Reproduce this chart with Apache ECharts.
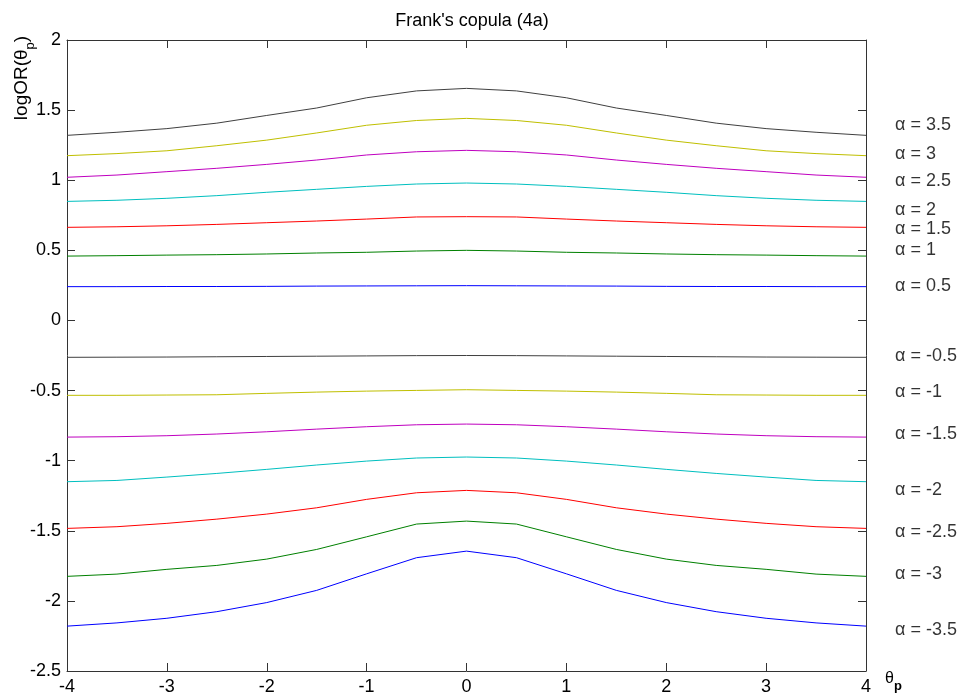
<!DOCTYPE html>
<html>
<head>
<meta charset="utf-8">
<script src="https://cdn.jsdelivr.net/npm/echarts@6/dist/echarts.min.js"></script>
<style>
  html, body { margin: 0; padding: 0; background: #fff; }
  #chart { width: 967px; height: 700px; }
</style>
</head>
<body>
<div id="chart"></div>
<script>
// theta_p sample points
var theta = [-4, -3.5, -3, -2.5, -2, -1.5, -1, -0.5, 0, 0.5, 1, 1.5, 2, 2.5, 3, 3.5, 4];

// logOR curves, one per alpha
var a35  = [1.320, 1.342, 1.368, 1.407, 1.462, 1.515, 1.588, 1.637, 1.655, 1.637, 1.588, 1.515, 1.462, 1.407, 1.368, 1.342, 1.320];
var a30  = [1.175, 1.190, 1.210, 1.246, 1.286, 1.337, 1.392, 1.426, 1.441, 1.426, 1.392, 1.337, 1.286, 1.246, 1.210, 1.190, 1.175];
var a25  = [1.021, 1.037, 1.061, 1.085, 1.113, 1.144, 1.180, 1.203, 1.213, 1.203, 1.180, 1.144, 1.113, 1.085, 1.061, 1.037, 1.021];
var a20  = [0.849, 0.857, 0.871, 0.890, 0.914, 0.935, 0.956, 0.973, 0.980, 0.973, 0.956, 0.935, 0.914, 0.890, 0.871, 0.857, 0.849];
var a15  = [0.664, 0.668, 0.675, 0.685, 0.697, 0.709, 0.723, 0.738, 0.740, 0.738, 0.723, 0.709, 0.697, 0.685, 0.675, 0.668, 0.664];
var a10  = [0.459, 0.462, 0.466, 0.469, 0.474, 0.481, 0.486, 0.495, 0.500, 0.495, 0.486, 0.481, 0.474, 0.469, 0.466, 0.462, 0.459];
var a05  = [0.241, 0.241, 0.242, 0.242, 0.243, 0.245, 0.246, 0.247, 0.248, 0.247, 0.246, 0.245, 0.243, 0.242, 0.242, 0.241, 0.241];
var am05 = [-0.263, -0.262, -0.261, -0.259, -0.257, -0.255, -0.253, -0.251, -0.250, -0.251, -0.253, -0.255, -0.257, -0.259, -0.261, -0.262, -0.263];
var am10 = [-0.534, -0.534, -0.532, -0.530, -0.520, -0.511, -0.504, -0.499, -0.494, -0.499, -0.504, -0.511, -0.520, -0.530, -0.532, -0.534, -0.534];
var am15 = [-0.832, -0.829, -0.822, -0.810, -0.794, -0.775, -0.758, -0.744, -0.739, -0.744, -0.758, -0.775, -0.794, -0.810, -0.822, -0.829, -0.832];
var am20 = [-1.150, -1.141, -1.117, -1.091, -1.062, -1.031, -1.003, -0.981, -0.974, -0.981, -1.003, -1.031, -1.062, -1.091, -1.117, -1.141, -1.150];
var am25 = [-1.483, -1.471, -1.447, -1.417, -1.381, -1.336, -1.276, -1.229, -1.212, -1.229, -1.276, -1.336, -1.381, -1.417, -1.447, -1.471, -1.483];
var am30 = [-1.825, -1.809, -1.775, -1.747, -1.702, -1.633, -1.543, -1.452, -1.431, -1.452, -1.543, -1.633, -1.702, -1.747, -1.775, -1.809, -1.825];
var am35 = [-2.180, -2.157, -2.124, -2.077, -2.012, -1.925, -1.807, -1.692, -1.645, -1.692, -1.807, -1.925, -2.012, -2.077, -2.124, -2.157, -2.180];

var alphas = ['3.5', '3', '2.5', '2', '1.5', '1', '0.5', '-0.5', '-1', '-1.5', '-2', '-2.5', '-3', '-3.5'];
var curves = [a35, a30, a25, a20, a15, a10, a05, am05, am10, am15, am20, am25, am30, am35];
// where the "alpha = .." texts sit on the right (y in data units)
var labelY = [1.394, 1.187, 0.994, 0.787, 0.652, 0.502, 0.245, -0.254, -0.511, -0.810, -1.210, -1.509, -1.809, -2.208];

var xTicks = [-4, -3, -2, -1, 0, 1, 2, 3, 4];
var yTicks = [-2.5, -2, -1.5, -1, -0.5, 0, 0.5, 1, 1.5, 2];

// old matlab color order, repeated
var colors = ['#404040', '#bfbf00', '#bf00bf', '#00bfbf', '#ff0000', '#008000', '#0000ff',
              '#404040', '#bfbf00', '#bf00bf', '#00bfbf', '#ff0000', '#008000', '#0000ff'];

var FONT = '"Liberation Sans", Arial, sans-serif';
var axisColor = '#333';

var myChart = echarts.init(document.getElementById('chart'), null, {renderer: 'canvas'});

var series = curves.map(function (c, i) {
  return {
    name: 'alpha = ' + alphas[i],
    type: 'line',
    data: theta.map(function (t, j) { return [t, c[j]]; }),
    showSymbol: false,
    symbol: 'none',
    lineStyle: {color: colors[i], width: 1},
    itemStyle: {color: colors[i]},
    z: 3
  };
});

series.push({
  name: 'labels',
  type: 'scatter',
  clip: false,
  symbolSize: 0,
  data: labelY.map(function (y, i) { return {value: [4, y], name: alphas[i]}; }),
  label: {
    show: true,
    position: 'right',
    distance: 29,
    color: '#000',
    fontFamily: FONT,
    fontSize: 18,
    formatter: function (p) { return 'α = ' + p.name; }
  },
  silent: true
});

function xAxisCfg(pos) {
  return {
    type: 'value', position: pos, min: xTicks[0], max: xTicks[xTicks.length - 1], interval: 1,
    axisLine: {show: true, onZero: false, lineStyle: {color: axisColor, width: 1}},
    axisTick: {show: true, inside: true, length: 8, lineStyle: {color: axisColor}},
    axisLabel: {show: pos === 'bottom', color: '#000', fontFamily: FONT, fontSize: 18, margin: 7},
    splitLine: {show: false}
  };
}
function yAxisCfg(pos) {
  return {
    type: 'value', position: pos, min: yTicks[0], max: yTicks[yTicks.length - 1], interval: 0.5,
    axisLine: {show: true, onZero: false, lineStyle: {color: axisColor, width: 1}},
    axisTick: {show: true, inside: true, length: 8, lineStyle: {color: axisColor}},
    axisLabel: {show: pos === 'left', color: '#000', fontFamily: FONT, fontSize: 18, margin: 6},
    splitLine: {show: false}
  };
}

myChart.setOption({
  animation: false,
  backgroundColor: '#fff',
  title: {
    text: "Frank's copula (4a)",
    left: 467,
    top: 7,
    textAlign: 'center',
    textStyle: {fontFamily: FONT, fontSize: 18, fontWeight: 'normal', color: '#000'}
  },
  grid: {left: 67, right: 101, top: 40, bottom: 29},
  xAxis: [xAxisCfg('bottom'), xAxisCfg('top')],
  yAxis: [yAxisCfg('left'), yAxisCfg('right')],
  series: series,
  graphic: [
    {
      type: 'text', x: 22, y: 78, rotation: Math.PI / 2,
      style: {
        text: '{n|logOR(θ}{s|p}{n|)}',
        align: 'center', verticalAlign: 'middle',
        rich: {
          n: {fontFamily: FONT, fontSize: 19, lineHeight: 30, fill: '#000', verticalAlign: 'middle'},
          s: {fontFamily: FONT, fontSize: 13, fill: '#000', verticalAlign: 'bottom'}
        }
      }
    },
    {
      type: 'text', x: 885, y: 679,
      style: {
        text: '{n|θ}{s|p}',
        align: 'left', verticalAlign: 'middle',
        rich: {
          n: {fontFamily: FONT, fontSize: 16, lineHeight: 28, fill: '#000', verticalAlign: 'middle'},
          s: {fontFamily: FONT, fontSize: 13, fontWeight: 'bold', fill: '#000', verticalAlign: 'bottom'}
        }
      }
    }
  ]
});

window.addEventListener('resize', function () {
  myChart.resize();
});
</script>
</body>
</html>
